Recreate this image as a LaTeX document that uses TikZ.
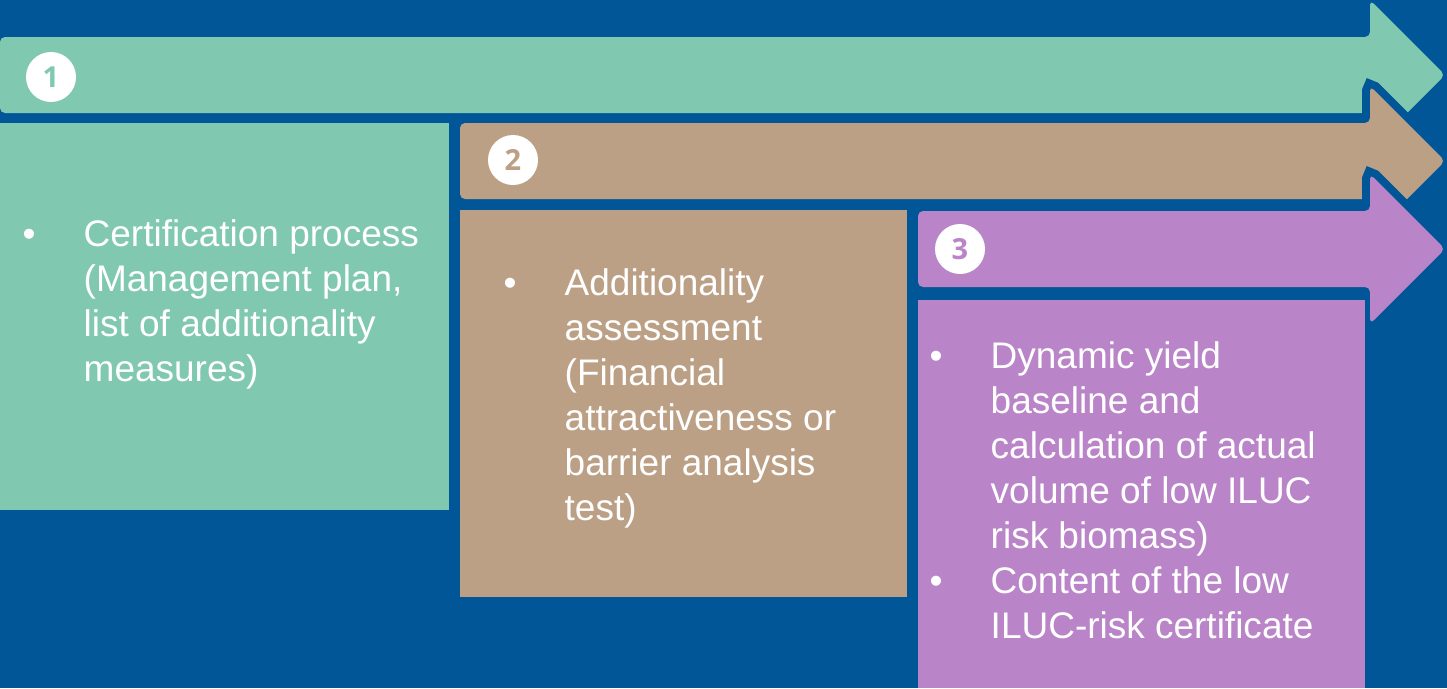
\documentclass[tikz,border=0pt]{standalone}
\usepackage{fontspec}
\setmainfont{Liberation Sans}
\newfontfamily\numfont{Open Sans}
\usepackage{array}
\definecolor{bgblue}{RGB}{0,86,151}
\definecolor{stepteal}{RGB}{128,200,176}
\definecolor{steptan}{RGB}{187,160,133}
\definecolor{stepviolet}{RGB}{186,133,200}
\tikzset{
	bigarrow/.style={fill=#1, rounded corners=5pt, preaction={draw=bgblue, line width=16pt}},
	numcirc/.style={circle, fill=white, minimum size=50pt, inner sep=0pt, text=#1, font=\numfont\bfseries\fontsize{29}{29}\selectfont},
	listtext/.style={anchor=base west, inner sep=0pt, text=white, font=\fontsize{37}{45}\selectfont},
}

\begin{document}
\begin{tikzpicture}[x=1pt,y=-1pt]
		\useasboundingbox (0,0) rectangle (1447,688);
		\fill[bgblue] (0,0) rectangle (1447,688);
		\clip (0,0) rectangle (1447,688);
		% step 1
		\path[bigarrow=stepteal] (0,37) -- (1370,37) -- (1370,0) -- (1445,75) -- (1370,150) -- (1370,113) -- (0,113) -- cycle;
		\fill[stepteal] (0,123) rectangle (449,510);
		% step 2
		\path[bigarrow=steptan] (460,123) -- (1370,123) -- (1370,86) -- (1445,161) -- (1370,236) -- (1370,199) -- (460,199) -- cycle;
		\fill[steptan] (460,210) rectangle (907,597);
		% step 3
		\path[bigarrow=stepviolet] (918,211) -- (1370,211) -- (1370,174) -- (1445,249) -- (1370,324) -- (1370,287) -- (918,287) -- cycle;
		\fill[stepviolet] (918,300) rectangle (1365,688);
		% numbers
		\node[numcirc=stepteal] (c1) at (51,77) {1};
		\node[numcirc=steptan] (c2) at (513,160) {2};
		\node[numcirc=stepviolet] (c3) at (960,249) {3};
		% bullet lists
		\node[listtext] (list1) at (22.5,246) {\begin{tabular}[t]{@{}p{61pt}@{}l@{}}
			\textbullet & Certification process\\
			& (Management plan,\\
			& list of additionality\\
			& measures)
		\end{tabular}};
		\node[listtext] (list2) at (503.5,295) {\begin{tabular}[t]{@{}p{61pt}@{}l@{}}
			\textbullet & Additionality\\
			& assessment\\
			& (Financial\\
			& attractiveness or\\
			& barrier analysis\\
			& test)
		\end{tabular}};
		\node[listtext] (list3) at (929.5,368) {\begin{tabular}[t]{@{}p{61pt}@{}l@{}}
			\textbullet & Dynamic yield\\
			& baseline and\\
			& calculation of actual\\
			& volume of low ILUC\\
			& risk biomass)\\
			\textbullet & Content of the low\\
			& ILUC-risk certificate
		\end{tabular}};
\end{tikzpicture}
\end{document}
